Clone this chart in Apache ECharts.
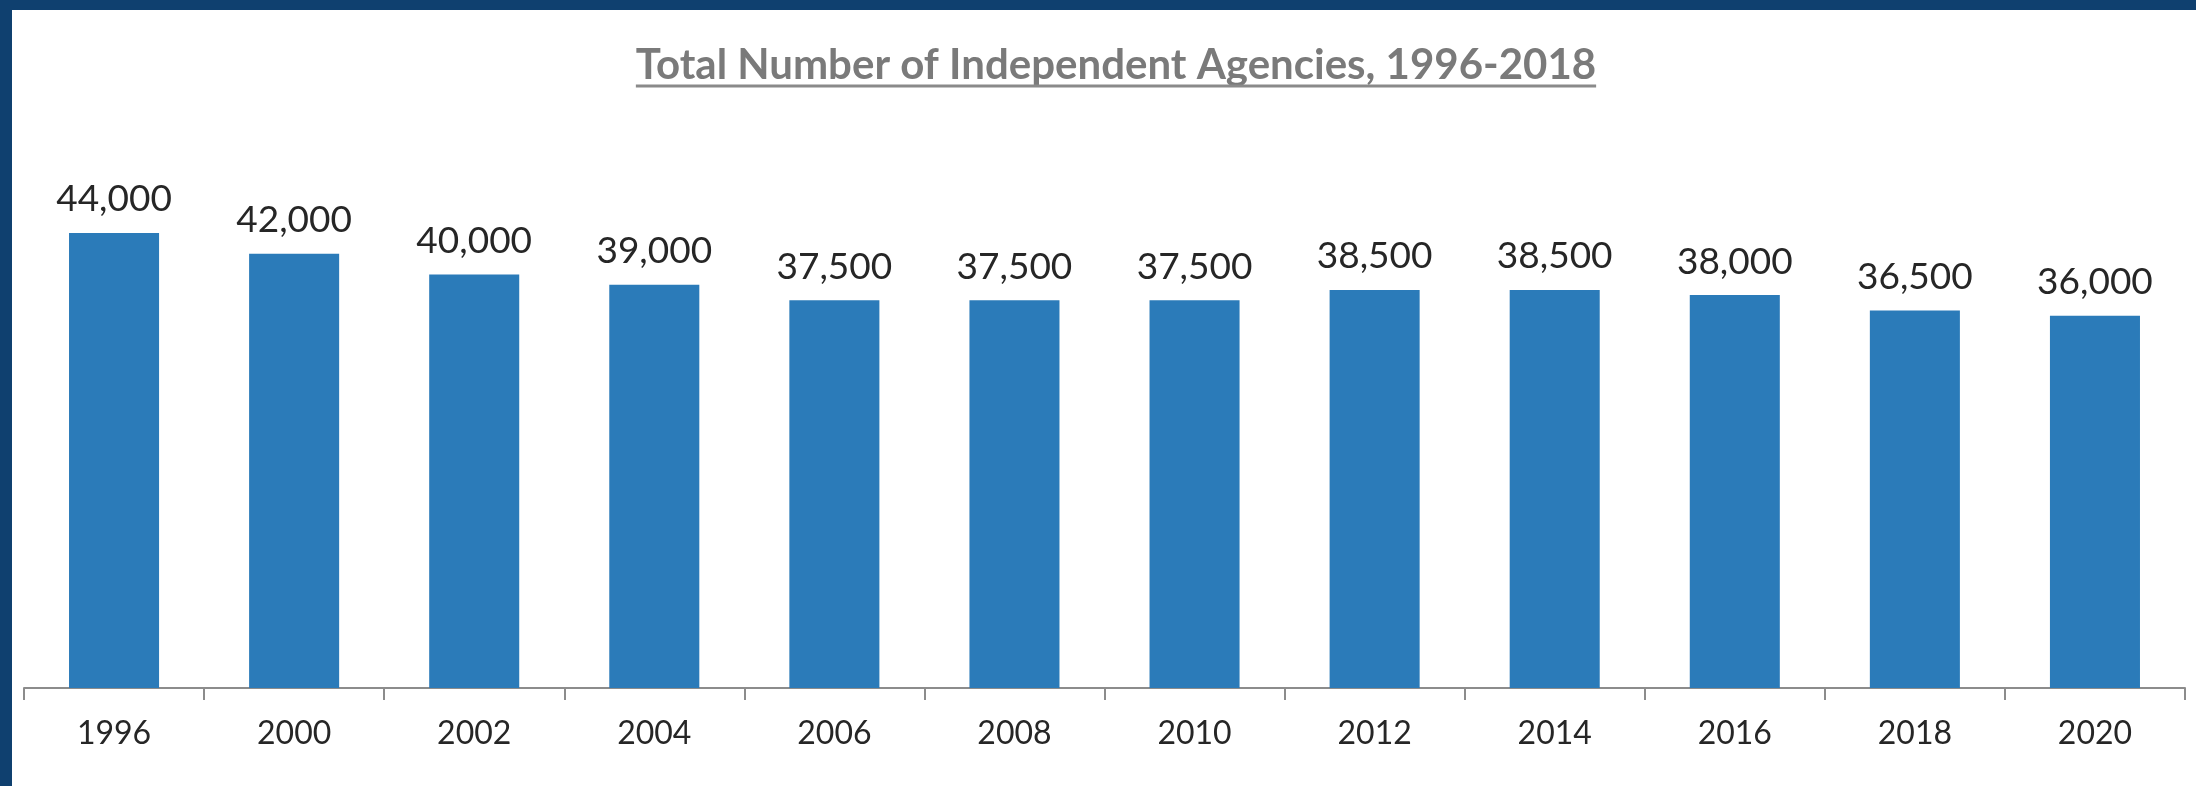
<!DOCTYPE html>
<html>
<head>
<meta charset="utf-8">
<script src="https://cdn.jsdelivr.net/npm/echarts@6/dist/echarts.min.js"></script>
<style>
  html, body { margin: 0; padding: 0; background: #ffffff; }
  #wrap { position: absolute; left: 0; top: 0; width: 2196px; height: 786px; box-sizing: border-box;
          border-top: 10px solid #0f406f; border-left: 12px solid #0f406f; background: #ffffff; }
  #chart { width: 2184px; height: 776px; }
</style>
</head>
<body>
<div id="wrap"><div id="chart"></div></div>
<script>
const titleText = 'Total Number of Independent Agencies, 1996-2018';
const years = ['1996', '2000', '2002', '2004', '2006', '2008', '2010', '2012', '2014', '2016', '2018', '2020'];
const agencies = [44000, 42000, 40000, 39000, 37500, 37500, 37500, 38500, 38500, 38000, 36500, 36000];

const titleFont = 'bold 42px Lato';
const cv = document.createElement('canvas').getContext('2d');
cv.font = titleFont;
const titleW = cv.measureText(titleText).width;
const titleX = 1104;

const chart = echarts.init(document.getElementById('chart'), null, { renderer: 'canvas' });
chart.setOption({
  animation: false,
  backgroundColor: '#ffffff',
  grid: { left: 12, right: 11, top: 161, bottom: 98, containLabel: false },
  graphic: [
    { type: 'text', left: titleX - titleW / 2, top: 34,
      style: { text: titleText, font: titleFont, fill: '#7a7a7a' } },
    { type: 'line', shape: { x1: titleX - titleW / 2, y1: 76, x2: titleX + titleW / 2, y2: 76 },
      style: { stroke: '#8a8a8a', lineWidth: 3 } }
  ],
  xAxis: {
    type: 'category',
    data: years,
    axisLine: { lineStyle: { color: '#8c8c8c', width: 2 } },
    axisTick: { show: true, length: 12, lineStyle: { color: '#8c8c8c', width: 2 } },
    axisLabel: { margin: 30, fontSize: 32, fontFamily: 'Lato', color: '#262626' }
  },
  yAxis: { type: 'value', min: 0, max: 50000, show: false, splitLine: { show: false } },
  series: [{
    type: 'bar',
    data: agencies,
    barWidth: '50%',
    itemStyle: { color: '#2b7bb9' },
    label: {
      show: true, position: 'top', distance: 15,
      fontSize: 37, fontFamily: 'Lato', color: '#262626',
      formatter: p => p.value.toLocaleString('en-US')
    }
  }]
});
</script>
</body>
</html>
